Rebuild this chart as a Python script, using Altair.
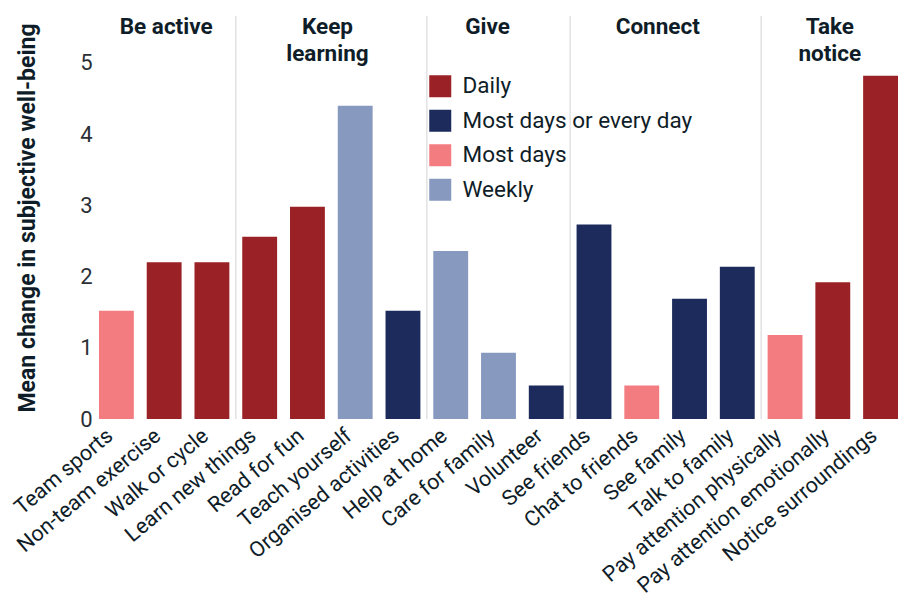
import altair as alt
import pandas as pd

# ---- data ----
activities = ["Team sports", "Non-team exercise", "Walk or cycle", "Learn new things",
              "Read for fun", "Teach yourself", "Organised activities", "Help at home",
              "Care for family", "Volunteer", "See friends", "Chat to friends", "See family",
              "Talk to family", "Pay attention physically", "Pay attention emotionally",
              "Notice surroundings"]
values = [1.52, 2.2, 2.2, 2.56, 2.98, 4.4, 1.52, 2.36, 0.93, 0.47, 2.73, 0.47, 1.69,
          2.14, 1.18, 1.92, 4.82]
frequency = ["Most days", "Daily", "Daily", "Daily", "Daily", "Weekly",
             "Most days or every day", "Weekly", "Weekly", "Most days or every day",
             "Most days or every day", "Most days", "Most days or every day",
             "Most days or every day", "Most days", "Daily", "Daily"]
freq_order = ["Daily", "Most days or every day", "Most days", "Weekly"]
freq_colors = ["#9a2226", "#1c2b5c", "#f37c80", "#8799be"]

group_names = ["Be active", "Keep\nlearning", "Give", "Connect", "Take\nnotice"]
group_anchor = ["Non-team exercise", "Read for fun", "Care for family",
                "Chat to friends", "Pay attention emotionally"]
group_starts = ["Learn new things", "Help at home", "See friends",
                "Pay attention physically"]
y_ticks = [0, 1, 2, 3, 4, 5]
y_max = 5.66

# ---- style / layout ----
FONT = "Roboto"
DARK = "#0f1d28"
label_dx = [2, 20, -11, 16, -3]
PLOT_W, PLOT_H = 804, 403
PAD = {"left": 86, "top": 8, "right": 0, "bottom": 183}
PAD_INNER = 0.27
PAD_OUTER = 0.052
STEP = PLOT_W / (17 - PAD_INNER + 2 * PAD_OUTER)

df = pd.DataFrame({"activity": activities, "value": values, "freq": frequency})
starts_df = pd.DataFrame({"activity": group_starts})

xscale = alt.Scale(domain=activities, paddingInner=PAD_INNER, paddingOuter=PAD_OUTER, align=1)
yscale = alt.Scale(domain=[0, y_max], nice=False, zero=True)

bars = alt.Chart(df).mark_bar().encode(
    x=alt.X("activity:N", scale=xscale, sort=activities,
            axis=alt.Axis(title=None, labelAngle=-40, labelAlign="right",
                          labelBaseline="middle", labelFontSize=21.5, labelColor=DARK,
                          labelFont=FONT, ticks=False, domain=False, labelPadding=14,
                          labelOffset=-6, labelLimit=400)),
    y=alt.Y("value:Q", scale=yscale,
            axis=alt.Axis(title="Mean change in subjective well-being", values=y_ticks,
                          format="d", grid=False, ticks=False, domain=False,
                          labelFontSize=22, labelColor="#2a2f35", labelFont=FONT,
                          labelPadding=2, titleFont=FONT, titleFontSize=23,
                          titleFontWeight="bold", titleColor=DARK, titlePadding=40)),
    color=alt.Color("freq:N", scale=alt.Scale(domain=freq_order, range=freq_colors),
                    legend=alt.Legend(title=None, orient="none", legendX=335, legendY=59,
                                      symbolType="square", symbolSize=484,
                                      symbolStrokeWidth=0, labelFontSize=22.5,
                                      labelFont=FONT, labelColor=DARK, rowPadding=11.5,
                                      labelOffset=11, padding=0, labelLimit=400)),
)

rules = alt.Chart(starts_df).mark_rule(color="#e2e2e2", strokeWidth=1.5,
                                       xOffset=-STEP * PAD_INNER / 2).encode(
    x=alt.X("activity:N", scale=xscale, sort=activities, bandPosition=0)
)

texts = []
for name, anchor, dx in zip(group_names, group_anchor, label_dx):
    t = alt.Chart(pd.DataFrame({"activity": [anchor], "label": [name]})).mark_text(
        font=FONT, fontSize=22.5, fontWeight="bold", color=DARK, baseline="top",
        align="center", lineBreak="\n", lineHeight=27, dx=dx, dy=0
    ).encode(
        x=alt.X("activity:N", scale=xscale, sort=activities),
        y=alt.datum(y_max),
        text="label:N",
    )
    texts.append(t)

chart = alt.layer(rules, bars, *texts).properties(
    width=PLOT_W, height=PLOT_H, padding=PAD,
    autosize=alt.AutoSizeParams(type="none"),
).configure_view(stroke=None)

chart.save("out.html", embed_options={"renderer": "svg", "actions": False})
